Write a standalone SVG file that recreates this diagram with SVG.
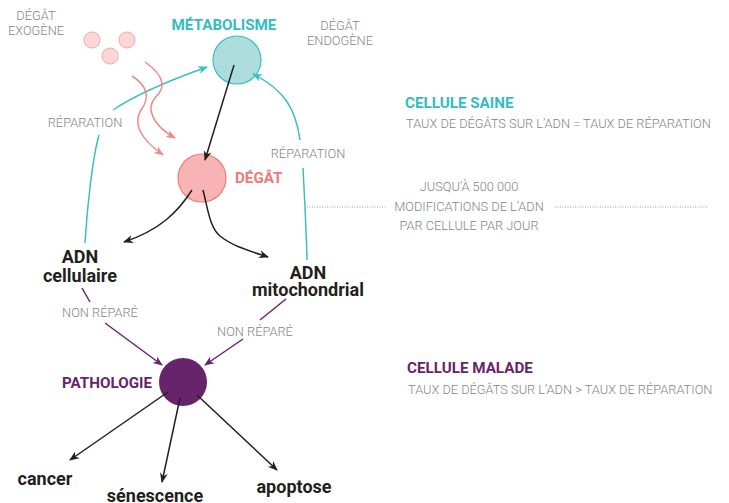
<svg xmlns="http://www.w3.org/2000/svg" width="729" height="503" viewBox="0 0 729 503">
<style>
.g{font-family:Roboto,"Liberation Sans",sans-serif;font-weight:300;font-size:12.8px;fill:#858585}
.b{font-family:Roboto,"Liberation Sans",sans-serif;font-weight:700}
.h{font-size:15.2px}
.lab{font-size:18px;fill:#231f20}
.c{stroke-width:1.5;fill:none}
.k{stroke:#231f20}
.t{stroke:#3dbfc0}
.s{stroke:#f08a87}
.p{stroke:#68246a}
</style>
<defs>
<marker id="ak" viewBox="0 0 10 10" refX="9" refY="5" markerWidth="10" markerHeight="10" markerUnits="userSpaceOnUse" orient="auto"><path d="M0,1 L10,5 L0,9 L3,5 z" fill="#231f20"/></marker>
<marker id="at" viewBox="0 0 10 10" refX="9" refY="5" markerWidth="10" markerHeight="10" markerUnits="userSpaceOnUse" orient="auto"><path d="M0,1 L10,5 L0,9 L3,5 z" fill="#3dbfc0"/></marker>
<marker id="as" viewBox="0 0 10 10" refX="9" refY="5" markerWidth="10" markerHeight="10" markerUnits="userSpaceOnUse" orient="auto"><path d="M0,1 L10,5 L0,9 L3,5 z" fill="#f08a87"/></marker>
<marker id="ap" viewBox="0 0 10 10" refX="9" refY="5" markerWidth="10" markerHeight="10" markerUnits="userSpaceOnUse" orient="auto"><path d="M0,1 L10,5 L0,9 L3,5 z" fill="#68246a"/></marker>
</defs>
<rect width="729" height="503" fill="#fff"/>

<g id="exogene">
<circle cx="92" cy="40" r="8" fill="#fdd7d7" stroke="#f6a9a9" stroke-width="1"/>
<circle cx="127" cy="40" r="8" fill="#fdd7d7" stroke="#f6a9a9" stroke-width="1"/>
<circle cx="110" cy="56" r="8" fill="#fdd7d7" stroke="#f6a9a9" stroke-width="1"/>
<text class="g" x="36" y="20" text-anchor="middle">DÉGÂT</text>
<text class="g" x="36" y="35" text-anchor="middle">EXOGÈNE</text>
</g>

<g id="metabolisme">
<circle cx="237" cy="60" r="24" fill="#acdcdc" stroke="#3dbfc0" stroke-width="1.2"/>
<text class="b h" x="224" y="30" text-anchor="middle" fill="#35bcc0">MÉTABOLISME</text>
</g>

<g id="endogene">
<text class="g" x="340" y="30" text-anchor="middle">DÉGÂT</text>
<text class="g" x="340" y="45" text-anchor="middle">ENDOGÈNE</text>
</g>

<g id="degat">
<circle cx="202" cy="178" r="24" fill="#f8b4b4" stroke="#f07d7b" stroke-width="1.2"/>
<text class="b h" x="235" y="183" fill="#f07a78">DÉGÂT</text>
</g>

<g id="adn-cellulaire">
<text class="b lab" x="80" y="263" text-anchor="middle">ADN</text>
<text class="b lab" x="80" y="282" text-anchor="middle">cellulaire</text>
</g>

<g id="adn-mito">
<text class="b lab" x="308" y="279" text-anchor="middle">ADN</text>
<text class="b lab" x="308" y="296" text-anchor="middle">mitochondrial</text>
</g>

<g id="pathologie">
<circle cx="183" cy="382" r="24" fill="#68246a"/>
<text class="b h" x="62" y="388" fill="#68246a">PATHOLOGIE</text>
</g>

<g id="cancer"><text class="b lab" x="45" y="485" text-anchor="middle">cancer</text></g>
<g id="senescence"><text class="b lab" x="155" y="502" text-anchor="middle">sénescence</text></g>
<g id="apoptose"><text class="b lab" x="294" y="493" text-anchor="middle">apoptose</text></g>

<g id="saine">
<text class="b h" x="405" y="108" fill="#35bcc0">CELLULE SAINE</text>
<text class="g" x="406" y="128">TAUX DE DÉGÂTS SUR L’ADN = TAUX DE RÉPARATION</text>
</g>

<g id="malade">
<text class="b h" x="407" y="373" fill="#68246a">CELLULE MALADE</text>
<text class="g" x="408" y="394">TAUX DE DÉGÂTS SUR L’ADN &gt; TAUX DE RÉPARATION</text>
</g>

<g id="modifs">
<text class="g" x="469" y="191" text-anchor="middle">JUSQU’À 500 000</text>
<text class="g" x="469" y="211" text-anchor="middle">MODIFICATIONS DE L’ADN</text>
<text class="g" x="469" y="230" text-anchor="middle">PAR CELLULE PAR JOUR</text>
<line x1="307" y1="207" x2="385" y2="207" stroke="#9a9a9a" stroke-width="1" stroke-dasharray="1,1.5"/>
<line x1="555" y1="207" x2="708" y2="207" stroke="#9a9a9a" stroke-width="1" stroke-dasharray="1,1.5"/>
</g>

<g id="labels">
<text class="g" x="85" y="127" text-anchor="middle">RÉPARATION</text>
<text class="g" x="308" y="158" text-anchor="middle">RÉPARATION</text>
<text class="g" x="100" y="317" text-anchor="middle">NON RÉPARÉ</text>
<text class="g" x="255" y="336" text-anchor="middle">NON RÉPARÉ</text>
</g>

<g id="connectors">
<path class="c k" d="M234,65 L205,160" marker-end="url(#ak)"/>
<path class="c k" d="M192,190 C178,212 160,230 124,242" marker-end="url(#ak)"/>
<path class="c k" d="M203,190 C208,210 210,228 220,236 C232,246 250,251 268,257" marker-end="url(#ak)"/>
<path class="c t" d="M85,243 C87,210 92,160 99,135"/>
<path class="c t" d="M113,110 C135,95 165,82 207,67" marker-end="url(#at)"/>
<path class="c t" d="M307,260 C306,220 304,190 303,168"/>
<path class="c t" d="M300,140 C296,110 285,90 253,74" marker-end="url(#at)"/>
<path class="c s" d="M145,62 C162,74 168,86 155,98 C146,108 152,125 175,138" marker-end="url(#as)"/>
<path class="c s" d="M132,76 C148,86 150,98 141,110 C132,125 142,140 163,155" marker-end="url(#as)"/>
<path class="c p" d="M82,288 L90,302"/>
<path class="c p" d="M105,323 L162,365" marker-end="url(#ap)"/>
<path class="c p" d="M286,299 L260,320"/>
<path class="c p" d="M243,339 L205,365" marker-end="url(#ap)"/>
<path class="c k" d="M168,392 L70,460" marker-end="url(#ak)"/>
<path class="c k" d="M180,398 L162,482" marker-end="url(#ak)"/>
<path class="c k" d="M197,395 L277,470" marker-end="url(#ak)"/>
</g>
</svg>
